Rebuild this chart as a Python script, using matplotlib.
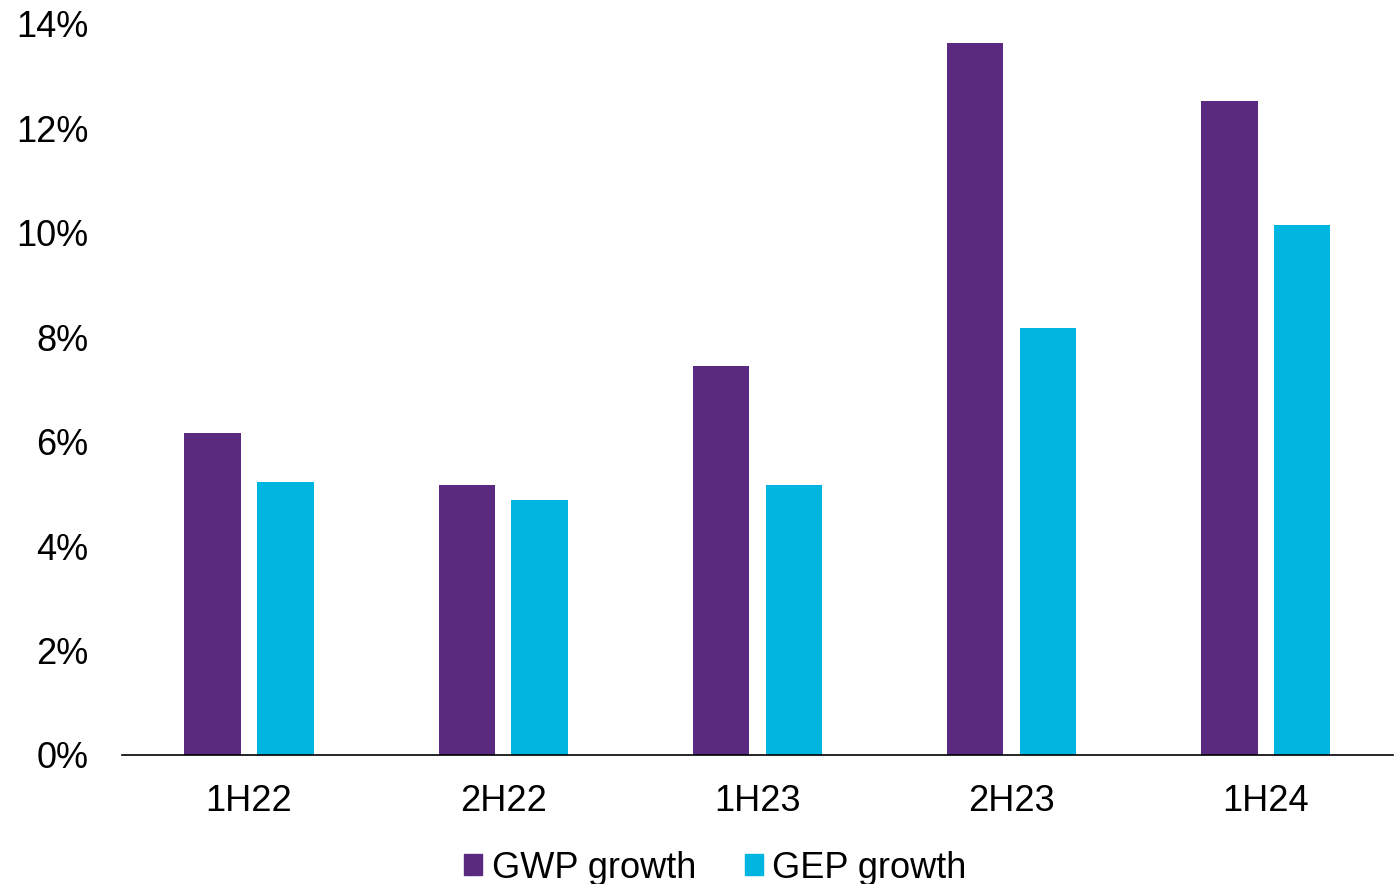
import numpy as np
import matplotlib.pyplot as plt
from matplotlib.patches import Patch
from matplotlib.ticker import FuncFormatter

plt.rcParams["font.family"] = ["Liberation Sans", "DejaVu Sans"]

periods = ["1H22", "2H22", "1H23", "2H23", "1H24"]
gwp_growth = [6.17, 5.17, 7.45, 13.64, 12.53]
gep_growth = [5.23, 4.89, 5.17, 8.18, 10.15]

PURPLE = "#5A2A81"
CYAN = "#00B6E0"

fig = plt.figure(figsize=(13.97, 8.84), dpi=100)
ax = fig.add_axes([0.0873, 0.146, 0.9097, 0.827])

x = np.arange(len(periods))
w = 0.222
off = 0.143
ax.bar(x - off, gwp_growth, w, color=PURPLE)
ax.bar(x + off, gep_growth, w, color=CYAN)

ax.set_xlim(-0.5, len(periods) - 0.5)
ax.set_ylim(0, 14)
ax.set_yticks(range(0, 15, 2))
ax.yaxis.set_major_formatter(FuncFormatter(lambda v, pos: f"{v:.0f}%"))
ax.set_xticks(x)
ax.set_xticklabels(periods)
ax.tick_params(axis="both", length=0, labelsize=26, colors="black")
ax.tick_params(axis="x", pad=21)
ax.tick_params(axis="y", pad=24)

for s in ["top", "right", "left"]:
    ax.spines[s].set_visible(False)
ax.spines["bottom"].set_color("black")
ax.spines["bottom"].set_linewidth(1.2)

handles = [Patch(color=PURPLE, label="GWP growth"), Patch(color=CYAN, label="GEP growth")]
fig.legend(handles=handles, loc="center", bbox_to_anchor=(0.512, 0.018), ncol=2,
           frameon=False, fontsize=26, handlelength=0.5, handleheight=0.5,
           handletextpad=0.25, columnspacing=1.35, borderpad=0)

fig.savefig("out.png", dpi=100)
plt.close(fig)
